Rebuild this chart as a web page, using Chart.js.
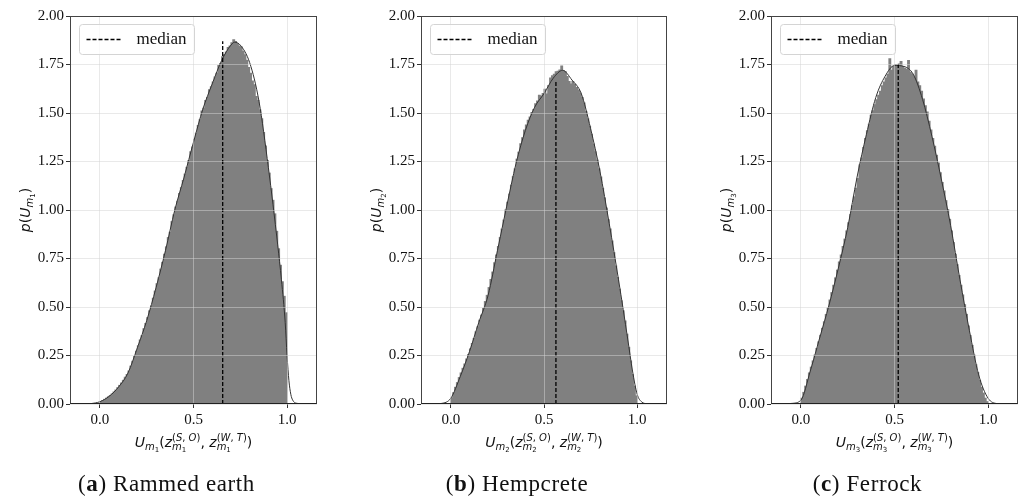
<!DOCTYPE html>
<html><head><meta charset="utf-8">
<script src="https://cdn.jsdelivr.net/npm/chart.js@4.4.0/dist/chart.umd.min.js"></script>
<style>
html,body{margin:0;padding:0;background:#fff;}
#wrap{position:relative;width:1020px;height:498px;overflow:hidden;background:#fff;}
canvas{position:absolute;top:0;}
</style>
</head><body>
<div id="wrap">
<canvas id="c0" width="340" height="498" style="left:0px"></canvas>
<canvas id="c1" width="340" height="498" style="left:340px"></canvas>
<canvas id="c2" width="340" height="498" style="left:680px"></canvas>
</div>
<script>
// ---------- data ----------
const panelLetters = ['a', 'b', 'c'];
const panelNames = ['Rammed earth', 'Hempcrete', 'Ferrock'];
const xTicks = [0.0, 0.5, 1.0];
const yTicks = [0.00, 0.25, 0.50, 0.75, 1.00, 1.25, 1.50, 1.75, 2.00];
const legendLabel = 'median';

const histStart = 0.0;
const binWidth = 0.01;

const medians = [0.656, 0.564, 0.520];
const medianTops = [1.87, 1.67, 1.76];

const hist1 = [
0.012,0.018,0.024,0.030,0.037,0.044,0.052,0.062,0.072,0.084,
0.096,0.108,0.122,0.138,0.152,0.170,0.195,0.220,0.245,0.272,
0.300,0.330,0.352,0.388,0.415,0.445,0.480,0.505,0.545,0.582,
0.620,0.650,0.695,0.730,0.772,0.810,0.858,0.885,0.940,0.975,
1.015,1.045,1.085,1.115,1.152,1.185,1.220,1.255,1.300,1.325,
1.365,1.395,1.435,1.465,1.510,1.525,1.565,1.580,1.620,1.635,
1.660,1.685,1.705,1.745,1.755,1.790,1.800,1.815,1.838,1.845,
1.862,1.878,1.868,1.858,1.845,1.842,1.818,1.800,1.772,1.735,
1.705,1.665,1.645,1.585,1.565,1.515,1.470,1.400,1.330,1.255,
1.190,1.110,1.050,0.980,0.890,0.800,0.715,0.630,0.555,0.470];

const hist2 = [
0.030,0.058,0.086,0.110,0.136,0.160,0.184,0.206,0.232,0.255,
0.284,0.312,0.338,0.372,0.398,0.432,0.458,0.492,0.528,0.560,
0.600,0.642,0.680,0.728,0.768,0.812,0.858,0.902,0.948,1.000,
1.040,1.082,1.128,1.172,1.212,1.262,1.298,1.342,1.372,1.412,
1.438,1.462,1.480,1.502,1.518,1.548,1.562,1.592,1.588,1.600,
1.622,1.598,1.642,1.680,1.692,1.700,1.712,1.715,1.722,1.742,
1.718,1.712,1.688,1.662,1.650,1.662,1.648,1.632,1.618,1.602,
1.580,1.552,1.508,1.470,1.432,1.390,1.340,1.300,1.258,1.212,
1.170,1.112,1.062,1.010,0.950,0.902,0.840,0.780,0.712,0.652,
0.592,0.532,0.480,0.428,0.360,0.292,0.222,0.152,0.092,0.042];

const hist3 = [
0.030,0.060,0.092,0.126,0.160,0.190,0.222,0.252,0.286,0.320,
0.354,0.390,0.424,0.462,0.494,0.536,0.574,0.612,0.650,0.690,
0.732,0.768,0.812,0.850,0.892,0.934,0.976,1.022,1.068,1.112,
1.162,1.232,1.268,1.322,1.368,1.408,1.442,1.488,1.512,1.542,
1.568,1.592,1.612,1.640,1.660,1.680,1.700,1.780,1.720,1.740,
1.750,1.745,1.752,1.765,1.740,1.730,1.725,1.770,1.710,1.700,
1.690,1.720,1.660,1.640,1.612,1.572,1.538,1.505,1.458,1.412,
1.368,1.328,1.282,1.242,1.192,1.142,1.098,1.048,1.002,0.952,
0.892,0.832,0.772,0.718,0.662,0.612,0.562,0.512,0.462,0.402,
0.352,0.302,0.252,0.202,0.162,0.122,0.086,0.056,0.030,0.012];

const kde1X = [-0.10,-0.05,0.00,0.05,0.10,0.15,0.20,0.25,0.30,0.35,0.40,0.45,0.50,0.55,0.60,0.65,0.70,0.72,0.75,0.80,0.85,0.90,0.95,0.97,0.99,1.00,1.01,1.02,1.03,1.05,1.10];
const kde1Y = [0.000,0.002,0.012,0.040,0.088,0.160,0.290,0.430,0.600,0.790,1.000,1.170,1.350,1.520,1.650,1.770,1.850,1.865,1.850,1.760,1.560,1.220,0.820,0.640,0.420,0.250,0.120,0.050,0.020,0.004,0.000];

const kde2X = [-0.10,-0.05,0.00,0.05,0.10,0.15,0.20,0.25,0.30,0.35,0.40,0.45,0.50,0.55,0.60,0.65,0.70,0.75,0.80,0.85,0.90,0.95,0.975,1.00,1.025,1.05,1.10];
const kde2Y = [0.000,0.003,0.030,0.140,0.270,0.420,0.560,0.790,1.020,1.240,1.410,1.530,1.600,1.680,1.720,1.670,1.600,1.420,1.200,0.930,0.640,0.330,0.170,0.050,0.010,0.002,0.000];

const kde3X = [-0.10,-0.05,0.00,0.05,0.10,0.15,0.20,0.25,0.30,0.35,0.40,0.45,0.50,0.55,0.60,0.65,0.70,0.75,0.80,0.85,0.90,0.95,1.00,1.05,1.10];
const kde3Y = [0.000,0.003,0.020,0.170,0.340,0.510,0.700,0.910,1.170,1.390,1.580,1.690,1.745,1.740,1.700,1.570,1.380,1.160,0.920,0.640,0.380,0.150,0.030,0.002,0.000];

const hists = [hist1, hist2, hist3];
const kdeXs = [kde1X, kde2X, kde3X];
const kdeYs = [kde1Y, kde2Y, kde3Y];

// ---------- layout / style ----------
const pads = [{left:34,right:23},{left:45,right:13},{left:55,right:2}];
const X_MIN = -0.16, X_MAX = 1.16;
const GRID = 'rgba(211,211,211,0.5)';
const TEXT = '#111';

function mathTokens(kind, n) {
  const sub = [{t:'m',s:10,dy:3,it:1},{t:String(n),s:7,dy:5}];
  const sup = (a,b) => [{t:'(',s:10,dy:-6},{t:a,s:10,dy:-6,it:1},{t:', ',s:10,dy:-6},{t:b,s:10,dy:-6,it:1},{t:')',s:10,dy:-6}];
  if (kind === 'y') {
    return [{t:'p',s:14,it:1},{t:'(',s:14},{t:'U',s:14,it:1},...sub,{t:')',s:14}];
  }
  return [
    {t:'U',s:14,it:1}, ...sub, {t:'(',s:14},
    {t:'z',s:14,it:1}, {stack:[sup('S','O'), sub]},
    {t:', ',s:14},
    {t:'z',s:14,it:1}, {stack:[sup('W','T'), sub]},
    {t:')',s:14}
  ];
}

function drawMath(ctx, tokens, x, y) {
  const fontOf = k => `${k.it ? 'italic ' : ''}${k.s}px "DejaVu Sans"`;
  function widthOf(list) {
    let w = 0;
    for (const k of list) {
      if (k.stack) w += Math.max(...k.stack.map(widthOf));
      else { ctx.font = fontOf(k); w += ctx.measureText(k.t).width; }
    }
    return w;
  }
  function draw(list, x0) {
    let xx = x0;
    for (const k of list) {
      if (k.stack) { const ws = k.stack.map(l => draw(l, xx) - xx); xx += Math.max(...ws); }
      else { ctx.font = fontOf(k); ctx.fillText(k.t, xx, y + (k.dy || 0)); xx += ctx.measureText(k.t).width; }
    }
    return xx;
  }
  const w = widthOf(tokens);
  draw(tokens, x - w / 2);
}

const annot = {
  id: 'annot',
  afterDraw(chart, args, opts) {
    const ctx = chart.ctx, a = chart.chartArea, i = opts.panel;
    ctx.save();
    // frame
    ctx.strokeStyle = '#444'; ctx.lineWidth = 1; ctx.setLineDash([]);
    const L = Math.round(a.left) + 0.5, T = Math.round(a.top) + 0.5;
    const R = Math.round(a.right) - 0.5, B = Math.round(a.bottom) - 0.5;
    ctx.strokeRect(L, T, R - L, B - T);
    ctx.strokeStyle = '#222';
    ctx.beginPath(); ctx.moveTo(L, B); ctx.lineTo(R, B); ctx.stroke();
    // legend
    const lx = Math.round(a.left) + 9.5, ly = Math.round(a.top) + 8.5;
    ctx.beginPath();
    ctx.roundRect(lx, ly, 115, 30, 3);
    ctx.fillStyle = 'rgba(255,255,255,0.8)'; ctx.fill();
    ctx.strokeStyle = '#d4d4d4'; ctx.stroke();
    ctx.strokeStyle = '#000'; ctx.lineWidth = 1.3; ctx.setLineDash([4, 2]);
    ctx.beginPath(); ctx.moveTo(lx + 7, ly + 15); ctx.lineTo(lx + 43, ly + 15); ctx.stroke();
    ctx.setLineDash([]);
    ctx.fillStyle = TEXT; ctx.font = '17px "Liberation Serif"';
    ctx.textAlign = 'left'; ctx.textBaseline = 'middle';
    ctx.fillText(legendLabel, lx + 57, ly + 15);
    // axis titles
    ctx.textBaseline = 'alphabetic'; ctx.textAlign = 'left';
    const cx = (a.left + a.right) / 2;
    drawMath(ctx, mathTokens('x', i + 1), cx, 446.5);
    ctx.save();
    ctx.translate(a.left - 40, (a.top + a.bottom) / 2);
    ctx.rotate(-Math.PI / 2);
    drawMath(ctx, mathTokens('y', i + 1), 0, 0);
    ctx.restore();
    // caption
    const capX = cx - 27, capY = 490.5;
    ctx.letterSpacing = '0.6px';
    const parts = [
      {t:'(', f:'23px "Liberation Serif"'},
      {t:panelLetters[i], f:'bold 23px "Liberation Serif"'},
      {t:')', f:'23px "Liberation Serif"'},
      {t:' ' + panelNames[i], f:'23px "Liberation Serif"'}
    ];
    let tw = 0;
    for (const p of parts) { ctx.font = p.f; tw += ctx.measureText(p.t).width; }
    let xx = capX - tw / 2;
    for (const p of parts) { ctx.font = p.f; ctx.fillText(p.t, xx, capY); xx += ctx.measureText(p.t).width; }
    ctx.letterSpacing = '0px';
    ctx.restore();
  }
};

for (let i = 0; i < 3; i++) {
  const hist = hists[i];
  const barData = hist.map((v, k) => ({x: histStart + binWidth * (k + 0.5), y: v}));
  const kdeData = kdeXs[i].map((x, k) => ({x: x, y: kdeYs[i][k]}));
  const medData = [{x: medians[i], y: 0}, {x: medians[i], y: medianTops[i]}];
  new Chart(document.getElementById('c' + i), {
    type: 'bar',
    data: {
      datasets: [
        {type:'line', label:'median', data: medData, borderColor:'#000', borderWidth:1.3,
         borderDash:[4,2], pointRadius:0, order:0},
        {type:'line', label:'kde', data: kdeData, borderColor:'#333', borderWidth:1,
         pointRadius:0, cubicInterpolationMode:'monotone', order:1},
        {type:'bar', label:'hist', data: barData, backgroundColor:'#808080', borderWidth:0,
         inflateAmount: 0.5, barPercentage:1.0, categoryPercentage:1.0, order:2}
      ]
    },
    options: {
      responsive: false, animation: false, events: [],
      layout: {padding: {left: pads[i].left, right: pads[i].right, top: 16, bottom: 74}},
      plugins: {legend: {display: false}, tooltip: {enabled: false}, annot: {panel: i}},
      scales: {
        x: {
          type: 'linear', min: X_MIN, max: X_MAX, offset: false,
          grid: {color: GRID, lineWidth: 1, tickColor: '#333', tickLength: 4, drawTicks: true, offset: false, z: 1},
          border: {display: false},
          ticks: {color: TEXT, font: {family: 'Liberation Serif', size: 15}, padding: 3,
                  maxRotation: 0, autoSkip: false, callback: v => Number(v).toFixed(1)},
          afterBuildTicks: s => { s.ticks = xTicks.map(v => ({value: v})); },
          afterFit: s => { s.height = 20; }
        },
        y: {
          type: 'linear', min: 0, max: 2,
          grid: {color: GRID, lineWidth: 1, tickColor: '#333', tickLength: 4, drawTicks: true, offset: false, z: 1},
          border: {display: false},
          ticks: {color: TEXT, font: {family: 'Liberation Serif', size: 15}, padding: 2,
                  autoSkip: false, callback: v => Number(v).toFixed(2)},
          afterBuildTicks: s => { s.ticks = yTicks.map(v => ({value: v})); },
          afterFit: s => { s.width = 36; }
        }
      }
    },
    plugins: [annot]
  });
}
</script>
</body></html>
